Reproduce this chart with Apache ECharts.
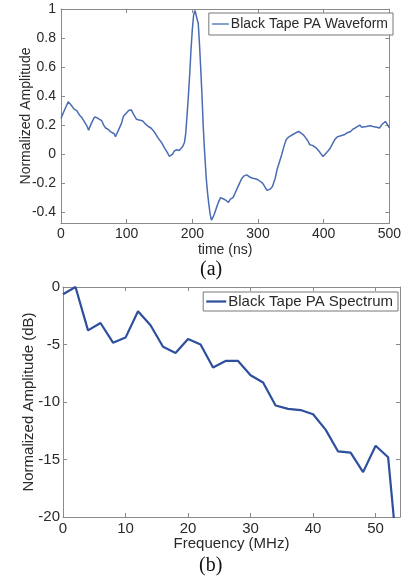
<!DOCTYPE html>
<html lang="en">
<head>
<meta charset="UTF-8">
<script src="https://cdn.jsdelivr.net/npm/echarts/dist/echarts.min.js"></script>
<title>Black Tape PA</title>
<style>
    html, body { margin: 0; padding: 0; background: #fff; }
    #chart { width: 404px; height: 578px; }
</style>
</head>
<body>
<div id="chart"></div>
<script>
// (a) waveform, time in ns
const timeNs = [0, 4, 8, 11, 15, 20, 24, 28, 32, 36, 40, 42, 46, 51, 55, 58, 62, 65, 68, 72, 75, 78, 81, 83, 85, 88, 92, 95, 99, 103, 107, 111, 115, 119, 124, 128, 133, 137, 140, 144, 148, 153, 158, 162, 165, 167, 170, 172, 176, 180, 182, 185, 188, 190, 192, 194, 196, 198, 200, 202, 204, 205.5, 207, 209, 211, 213, 215, 216.5, 218.5, 221, 223, 225, 227, 229, 231, 233, 236, 239, 243, 246, 250, 253, 255, 258, 262, 265, 268, 272, 275, 279, 283, 285, 288, 292, 296, 300, 303, 307, 311, 314, 316, 319, 322, 326, 329, 333, 336, 340, 343, 346, 349, 353, 357, 360, 362, 365, 369, 373, 376, 379, 383, 386, 389, 393, 396, 399, 402, 406, 410, 414, 417, 421, 425, 428, 431, 435, 438, 441, 444, 448, 451, 455, 458, 461, 465, 468, 471, 475, 478, 481, 485, 488, 491, 494, 497, 500];
const waveAmp = [0.245, 0.29, 0.33, 0.36, 0.34, 0.31, 0.3, 0.27, 0.25, 0.22, 0.19, 0.165, 0.21, 0.255, 0.25, 0.25, 0.23, 0.2, 0.18, 0.17, 0.155, 0.15, 0.14, 0.12, 0.14, 0.17, 0.21, 0.26, 0.28, 0.3, 0.305, 0.27, 0.24, 0.235, 0.23, 0.21, 0.19, 0.18, 0.165, 0.14, 0.11, 0.08, 0.04, 0.01, -0.015, -0.02, 0.0, 0.018, 0.03, 0.025, 0.03, 0.05, 0.08, 0.145, 0.27, 0.4, 0.55, 0.72, 0.86, 0.96, 0.99, 1.0, 0.98, 0.9, 0.75, 0.57, 0.374, 0.2, 0.03, -0.155, -0.26, -0.34, -0.41, -0.455, -0.44, -0.42, -0.38, -0.34, -0.3, -0.31, -0.315, -0.32, -0.333, -0.31, -0.3, -0.27, -0.24, -0.2, -0.17, -0.15, -0.143, -0.15, -0.16, -0.166, -0.17, -0.177, -0.19, -0.2, -0.23, -0.25, -0.258, -0.24, -0.223, -0.17, -0.108, -0.05, -0.005, 0.06, 0.1, 0.115, 0.12, 0.135, 0.145, 0.15, 0.156, 0.15, 0.133, 0.11, 0.09, 0.064, 0.06, 0.05, 0.041, 0.02, 0.0, -0.016, -0.01, 0.018, 0.04, 0.076, 0.1, 0.12, 0.125, 0.13, 0.133, 0.145, 0.14, 0.156, 0.17, 0.18, 0.19, 0.2, 0.185, 0.195, 0.19, 0.2, 0.195, 0.19, 0.195, 0.185, 0.18, 0.2, 0.21, 0.225, 0.205, 0.18];

// (b) spectrum, frequency in MHz
const freqMHz = [0, 2, 4, 6, 8, 10, 12, 14, 16, 18, 20, 22, 24, 26, 28, 30, 32, 34, 36, 38, 40, 42, 44, 46, 48, 50, 52, 54];
const specDb = [-0.63, 0, -3.77, -3.13, -4.84, -4.4, -2.11, -3.33, -5.2, -5.74, -4.52, -5.0, -7.0, -6.43, -6.43, -7.68, -8.3, -10.3, -10.6, -10.7, -11.07, -12.4, -14.3, -14.4, -16.1, -13.8, -14.8, -26.4];

const yTicksA = [-0.4, -0.2, 0, 0.2, 0.4, 0.6, 0.8, 1];
const xTicksA = [0, 100, 200, 300, 400, 500];
const yTicksB = [-20, -15, -10, -5, 0];
const xTicksB = [0, 10, 20, 30, 40, 50];

const fontSans = 'Liberation Sans, Arial, sans-serif';
const fontSerif = 'Liberation Serif, Times New Roman, serif';
const frameColor = '#8a8a8a';
const textColor = '#2a2a2a';

function frameAxis(extra, ticks, show, fontSize, margin) {
    return Object.assign({
        type: 'value',
        nameMoveOverlap: false,
        axisLine: { show: true, onZero: false, lineStyle: { color: frameColor, width: 1 } },
        axisTick: { show: true, inside: true, length: 4, customValues: ticks, lineStyle: { color: frameColor } },
        axisLabel: { show: show, customValues: ticks, color: textColor, fontFamily: fontSans, fontSize: fontSize, margin: margin || 5 },
        splitLine: { show: false }
    }, extra);
}

const chart = echarts.init(document.getElementById('chart'), null, { renderer: 'canvas' });

chart.setOption({
    animation: false,
    backgroundColor: '#fff',
    title: [
        { text: '(a)', left: 195, top: 255,
          textStyle: { fontFamily: fontSerif, fontWeight: 'normal', fontSize: 20, color: '#111' } },
        { text: '(b)', left: 194, top: 551,
          textStyle: { fontFamily: fontSerif, fontWeight: 'normal', fontSize: 20, color: '#111' } }
    ],
    legend: [
        {
            data: ['Black Tape PA Waveform'],
            right: 11, top: 13,
            orient: 'vertical',
            icon: 'rect',
            itemWidth: 17, itemHeight: 1.3, itemGap: 0,
            padding: [4, 5, 4, 3],
            borderColor: '#777', borderWidth: 1, backgroundColor: '#fff',
            textStyle: { fontFamily: fontSans, fontSize: 14, color: textColor, padding: [0, 0, 0, -3] }
        },
        {
            data: ['Black Tape PA Spectrum'],
            right: 6, top: 292,
            orient: 'vertical',
            icon: 'rect',
            itemWidth: 20, itemHeight: 2.2, itemGap: 0,
            padding: [2, 5, 2, 3],
            borderColor: '#777', borderWidth: 1, backgroundColor: '#fff',
            textStyle: { fontFamily: fontSans, fontSize: 15, color: textColor, padding: [0, 0, 0, -3] }
        }
    ],
    grid: [
        { left: 61, right: 8, top: 9, height: 214, containLabel: false },
        { left: 63, right: 4, top: 287, height: 230, containLabel: false }
    ],
    xAxis: [
        frameAxis({ gridIndex: 0, min: 0, max: 500, position: 'bottom',
            name: 'time (ns)', nameLocation: 'middle', nameGap: 20,
            nameTextStyle: { fontFamily: fontSans, fontSize: 14, color: textColor } }, xTicksA, true, 14, 4),
        frameAxis({ gridIndex: 0, min: 0, max: 500, position: 'top' }, xTicksA, false, 14),
        frameAxis({ gridIndex: 1, min: 0, max: 53.9, position: 'bottom',
            name: 'Frequency (MHz)', nameLocation: 'middle', nameGap: 19,
            nameTextStyle: { fontFamily: fontSans, fontSize: 15, color: textColor } }, xTicksB, true, 15, 4),
        frameAxis({ gridIndex: 1, min: 0, max: 53.9, position: 'top' }, xTicksB, false, 15)
    ],
    yAxis: [
        frameAxis({ gridIndex: 0, min: -0.475, max: 1, position: 'left',
            name: 'Normalized Amplitude', nameLocation: 'middle', nameGap: 28,
            nameTextStyle: { fontFamily: fontSans, fontSize: 14, color: textColor } }, yTicksA, true, 14, 5),
        frameAxis({ gridIndex: 0, min: -0.475, max: 1, position: 'right' }, yTicksA, false, 14),
        frameAxis({ gridIndex: 1, min: -20, max: 0, position: 'left',
            name: 'Normalized Amplitude (dB)', nameLocation: 'middle', nameGap: 27,
            nameTextStyle: { fontFamily: fontSans, fontSize: 15, color: textColor } }, yTicksB, true, 15, 3),
        frameAxis({ gridIndex: 1, min: -20, max: 0, position: 'right' }, yTicksB, false, 15)
    ],
    series: [
        {
            name: 'Black Tape PA Waveform',
            type: 'line',
            xAxisIndex: 0, yAxisIndex: 0,
            data: timeNs.map((t, i) => [t, waveAmp[i]]),
            symbol: 'none',
            clip: true,
            color: '#4a6cb3',
            lineStyle: { width: 1.5, color: '#4a6cb3' }
        },
        {
            name: 'Black Tape PA Spectrum',
            type: 'line',
            xAxisIndex: 2, yAxisIndex: 2,
            data: freqMHz.map((f, i) => [f, specDb[i]]),
            symbol: 'none',
            clip: true,
            color: '#2d4f9c',
            lineStyle: { width: 2.2, color: '#2d4f9c' }
        }
    ]
});
</script>
</body>
</html>
